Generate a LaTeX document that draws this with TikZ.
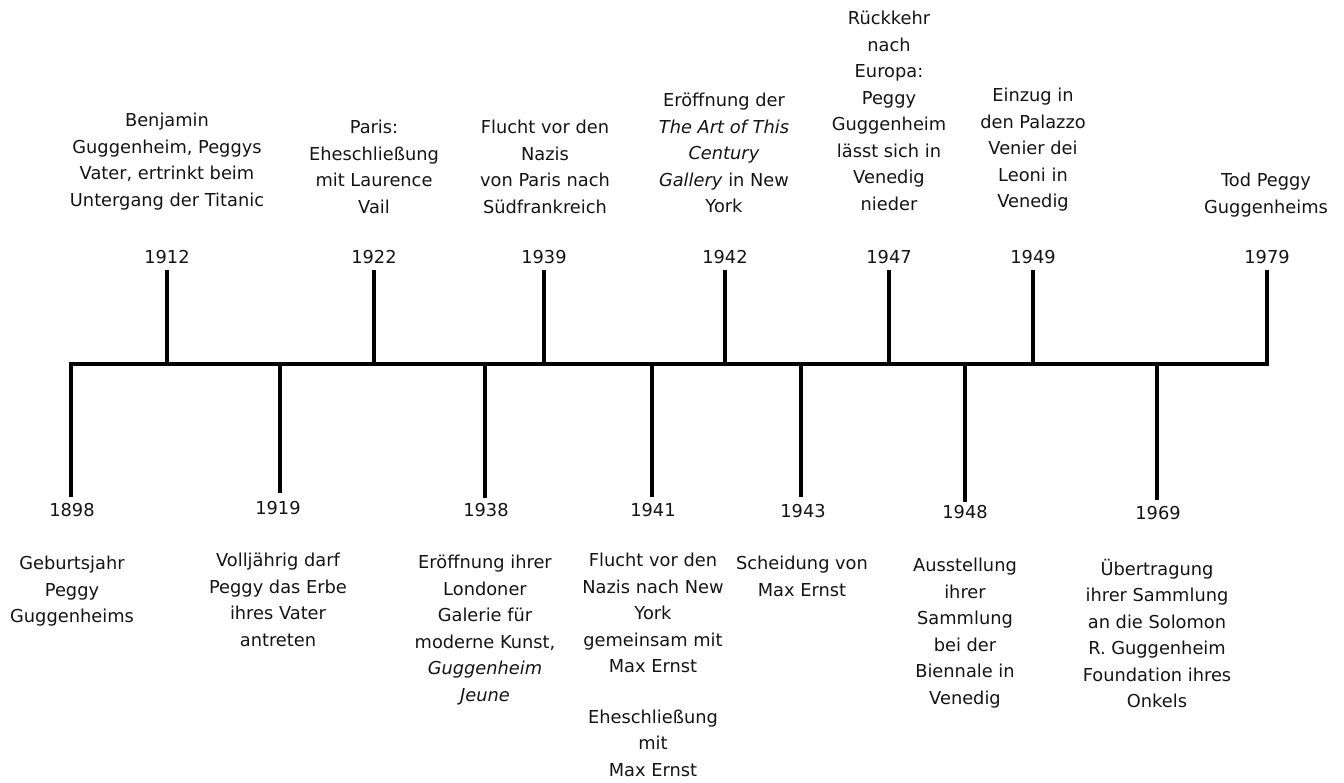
\documentclass[tikz,border=0pt]{standalone}
\usepackage{fontspec}
\setmainfont{DejaVu Sans}
\begin{document}
\begin{tikzpicture}[x=1pt,y=-1pt,
  bar/.style={line width=3.8pt, black},
  txt/.style={font=\fontsize{17.8}{26.5}\selectfont, text=black!92},
  evt/.style={txt, align=center, inner sep=0pt, anchor=north, execute at begin node=\strut},
  yr/.style={txt, inner sep=0pt}]
\useasboundingbox (0,0) rectangle (1344,782);
% axis coordinates
\coordinate (b1898) at (71,497);
\coordinate (a1898) at (71,364);
\coordinate (a1979) at (1267,364);
\coordinate (t1979) at (1267,270);
\draw[bar, line join=miter] (b1898) -- (a1898) -- (a1979) -- (t1979);
% upper ticks
\foreach \x/\n in {167/1912, 374/1922, 544/1939, 725/1942, 889/1947, 1033/1949}{
  \coordinate (a\n) at (\x,364);
  \coordinate (t\n) at (\x,270);
  \draw[bar] (a\n) -- (t\n);
  \node[yr] (y\n) at (\x,257) {\n};
}
\node[yr] (y1979) at (1267,257) {1979};
% lower ticks
\foreach \x/\n/\b in {280/1919/493, 485/1938/498, 652/1941/497, 801/1943/497, 965/1948/502, 1157/1969/500}{
  \coordinate (a\n) at (\x,364);
  \coordinate (b\n) at (\x,\b);
  \draw[bar] (a\n) -- (b\n);
}
\node[yr] (y1898) at (72,510) {1898};
\node[yr] (y1919) at (278,508) {1919};
\node[yr] (y1938) at (486,510) {1938};
\node[yr] (y1941) at (653,510) {1941};
\node[yr] (y1943) at (803,511) {1943};
\node[yr] (y1948) at (965,512) {1948};
\node[yr] (y1969) at (1158,513) {1969};
% upper events
\node[evt] (e1912) at (167,113) {Benjamin\\Guggenheim, Peggys\\Vater, ertrinkt beim\\Untergang der Titanic};
\node[evt] (e1922) at (374,120) {Paris:\\Eheschließung\\mit Laurence\\Vail};
\node[evt] (e1939) at (545,120) {Flucht vor den\\Nazis\\von Paris nach\\Südfrankreich};
\node[evt] (e1942) at (724,93) {Eröffnung der\\\textit{The Art of This}\\\textit{Century}\\\textit{Gallery} in New\\York};
\node[evt] (e1947) at (889,11) {Rückkehr\\nach\\Europa:\\Peggy\\Guggenheim\\lässt sich in\\Venedig\\nieder};
\node[evt] (e1949) at (1033,88) {Einzug in\\den Palazzo\\Venier dei\\Leoni in\\Venedig};
\node[evt] (e1979) at (1266,173) {Tod Peggy\\Guggenheims};
% lower events
\node[evt] (e1898) at (72,556) {Geburtsjahr\\Peggy\\Guggenheims};
\node[evt] (e1919) at (278,553) {Volljährig darf\\Peggy das Erbe\\ihres Vater\\antreten};
\node[evt] (e1938) at (485,555) {Eröffnung ihrer\\Londoner\\Galerie für\\moderne Kunst,\\\textit{Guggenheim}\\\textit{Jeune}};
\node[evt] (e1941) at (653,553) {Flucht vor den\\Nazis nach New\\York\\gemeinsam mit\\Max Ernst\\[24pt]Eheschließung\\mit\\Max Ernst};
\node[evt] (e1943) at (802,556) {Scheidung von\\Max Ernst};
\node[evt] (e1948) at (965,558) {Ausstellung\\ihrer\\Sammlung\\bei der\\Biennale in\\Venedig};
\node[evt] (e1969) at (1157,559) {Übertragung\\ihrer Sammlung\\an die Solomon\\R. Guggenheim\\Foundation ihres\\Onkels};
\end{tikzpicture}
\end{document}
